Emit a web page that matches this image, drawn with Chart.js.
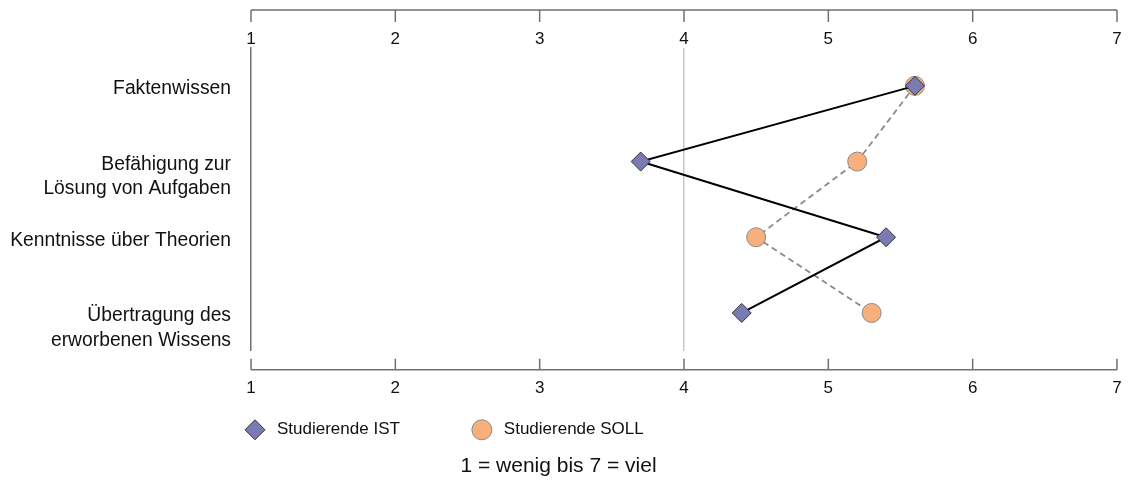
<!DOCTYPE html>
<html><head><meta charset="utf-8">
<script src="https://cdn.jsdelivr.net/npm/chart.js@4/dist/chart.umd.min.js"></script>
<style>html,body{margin:0;padding:0;background:#fff}#wrap{width:1128px;height:487px}</style>
</head><body><div id="wrap"><canvas id="c" width="1128" height="487"></canvas></div>
<script>
const categories = [["Faktenwissen"], ["Befähigung zur", "Lösung von Aufgaben"], ["Kenntnisse über Theorien"], ["Übertragung des", "erworbenen Wissens"]];
const istValues = [5.6, 3.7, 5.4, 4.4];
const sollValues = [5.6, 5.2, 4.5, 5.3];
const seriesNames = ["Studierende IST", "Studierende SOLL"];
const xTicks = [1, 2, 3, 4, 5, 6, 7];
const scaleNote = "1 = wenig bis 7 = viel";

const FONT = '"Liberation Sans", Arial, sans-serif';

const frameAxes = {
  id: 'frameAxes',
  afterDraw(chart) {
    const {ctx, chartArea: a, scales: {x}} = chart;
    ctx.save();
    ctx.strokeStyle = '#707070';
    ctx.lineWidth = 1.5;
    const x0 = x.getPixelForValue(xTicks[0]);
    const x1 = x.getPixelForValue(xTicks[xTicks.length - 1]);
    const yt = a.top - 38, yb = a.bottom + 19;
    ctx.beginPath();
    ctx.moveTo(x0, yt); ctx.lineTo(x1, yt);
    ctx.moveTo(x0, yb); ctx.lineTo(x1, yb);
    xTicks.forEach(v => {
      const px = x.getPixelForValue(v);
      ctx.moveTo(px, yt); ctx.lineTo(px, yt + 12);
      ctx.moveTo(px, yb); ctx.lineTo(px, yb - 11);
    });
    ctx.stroke();
    ctx.restore();
  }
};

const bottomLegend = {
  id: 'bottomLegend',
  afterDraw(chart) {
    const {ctx, chartArea: a} = chart;
    ctx.save();
    ctx.font = '17px ' + FONT;
    ctx.textBaseline = 'middle';
    ctx.textAlign = 'left';
    let cx = a.left + 4;
    const cy = a.bottom + 79;
    chart.data.datasets.forEach(ds => {
      ctx.fillStyle = ds.pointBackgroundColor;
      ctx.strokeStyle = ds.pointBorderColor;
      ctx.lineWidth = ds.pointBorderWidth;
      Chart.helpers.drawPoint(ctx, {pointStyle: ds.pointStyle, radius: 10, borderWidth: ds.pointBorderWidth, rotation: 0}, cx, cy);
      ctx.fillStyle = '#111111';
      ctx.fillText(ds.label, cx + 22, cy);
      cx += 22 + ctx.measureText(ds.label).width + 82;
    });
    ctx.restore();
  }
};

const noPad = s => { s.paddingLeft = 0; s.paddingRight = 0; s.paddingTop = 0; s.paddingBottom = 0; };

new Chart(document.getElementById('c'), {
  type: 'line',
  data: {
    labels: categories,
    datasets: [
      {
        label: seriesNames[0],
        data: istValues,
        xAxisID: 'x',
        borderColor: '#000000',
        borderWidth: 2,
        pointStyle: 'rectRot',
        pointRadius: 9.5,
        pointHoverRadius: 9.5,
        pointBackgroundColor: '#7b7bb3',
        pointBorderColor: '#333333',
        pointBorderWidth: 1,
        fill: false,
        tension: 0
      },
      {
        label: seriesNames[1],
        data: sollValues,
        xAxisID: 'x',
        borderColor: '#8a8a8a',
        borderWidth: 1.8,
        borderDash: [6, 4],
        pointStyle: 'circle',
        pointRadius: 9.5,
        pointHoverRadius: 9.5,
        pointBackgroundColor: '#f7b07c',
        pointBorderColor: '#8a8a8a',
        pointBorderWidth: 1,
        fill: false,
        tension: 0
      }
    ]
  },
  options: {
    indexAxis: 'y',
    responsive: false,
    animation: false,
    devicePixelRatio: 1,
    layout: {padding: {left: 0, right: 11, top: 0, bottom: 0}},
    plugins: {
      legend: {display: false},
      tooltip: {enabled: false},
      title: {
        display: true,
        position: 'bottom',
        text: scaleNote,
        color: '#111111',
        font: {family: FONT, size: 21, weight: 'normal', lineHeight: 1.2},
        padding: {top: 56, bottom: 8}
      }
    },
    scales: {
      y: {
        type: 'category',
        position: 'left',
        offset: true,
        afterFit: s => { s.width = 251; noPad(s); },
        grid: {display: false, drawTicks: false},
        border: {display: true, color: '#707070', width: 1.5},
        ticks: {
          autoSkip: false,
          padding: 20,
          labelOffset: 3,
          color: '#111111',
          font: {family: FONT, size: 19.3, lineHeight: 1.27},
          callback: function(v, i) {
            const lab = categories[i];
            return lab.length > 1 ? [''].concat(lab) : lab[0];
          }
        }
      },
      x: {
        type: 'linear',
        position: 'bottom',
        min: 1, max: 7,
        afterFit: s => { s.height = 47; noPad(s); },
        afterBuildTicks: s => { s.ticks = xTicks.map(v => ({value: v})); },
        grid: {
          drawTicks: false,
          lineWidth: 1.5,
          color: c => (c.tick && c.tick.value === 4) ? '#c8c8c8' : 'rgba(0,0,0,0)'
        },
        border: {display: false},
        ticks: {autoSkip: false, maxRotation: 0, padding: 27, color: '#111111', font: {family: FONT, size: 17}}
      },
      x2: {
        type: 'linear',
        position: 'top',
        min: 1, max: 7,
        afterFit: s => { s.height = 48; noPad(s); },
        afterBuildTicks: s => { s.ticks = xTicks.map(v => ({value: v})); },
        grid: {display: false, drawTicks: false},
        border: {display: false},
        ticks: {autoSkip: false, maxRotation: 0, padding: -2, color: '#111111', font: {family: FONT, size: 17}}
      }
    }
  },
  plugins: [frameAxes, bottomLegend]
});
</script>
</body></html>
